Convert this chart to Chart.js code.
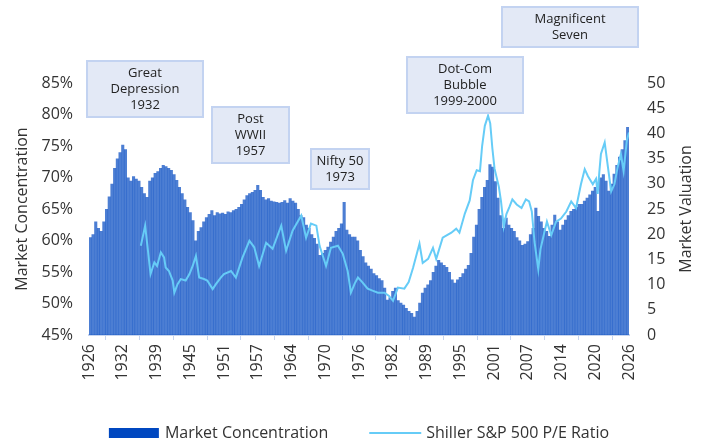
<!DOCTYPE html>
<html>
<head>
<meta charset="utf-8">
<script src="https://cdn.jsdelivr.net/npm/chart.js@4.4.1/dist/chart.umd.min.js"></script>
<style>
  html, body { margin: 0; padding: 0; background: #fff; }
</style>
</head>
<body>
<canvas id="myChart" width="706" height="444"></canvas>
<script>
// half-year values, first one is 1926 H1
const startYear = 1926;
const concentration = [
  60.5, 61.0, 63.0, 62.0, 61.5, 63.0, 65.0, 67.0, 69.0, 71.5,
  73.0, 74.0, 75.2, 74.5, 70.0, 69.5, 70.2, 69.8, 69.5, 68.5,
  67.5, 66.9, 69.5, 70.0, 70.7, 71.0, 71.5, 72.0, 71.8, 71.5,
  71.2, 70.5, 69.6, 68.5, 67.5, 66.5, 65.3, 64.5, 63.2, 60.0,
  61.5, 62.1, 63.0, 63.7, 64.2, 64.8, 64.0, 64.5, 64.3, 64.4,
  64.2, 64.6, 64.5, 64.8, 65.0, 65.3, 65.8, 66.5, 67.2, 67.5,
  67.7, 68.0, 68.8, 68.0, 66.9, 66.5, 66.7, 66.3, 66.2, 66.1,
  66.0, 66.1, 66.4, 66.0, 66.7, 66.3, 66.0, 65.0, 64.0, 63.7,
  62.5, 62.0, 61.0, 60.4, 59.5, 57.7, 58.0, 58.5, 59.0, 59.8,
  60.6, 61.5, 62.0, 62.7, 66.1, 61.7, 61.0, 60.6, 60.6, 60.0,
  58.5, 57.5, 56.5, 56.0, 55.5, 54.8, 54.5, 54.0, 53.7, 52.5,
  50.6, 51.0, 52.0, 52.5, 50.5, 50.1, 49.8, 49.3, 48.8, 48.5,
  47.9, 48.8, 50.1, 51.7, 52.5, 53.0, 53.7, 55.0, 56.0, 56.9,
  56.5, 56.1, 55.8, 55.0, 53.8, 53.3, 53.8, 54.2, 54.8, 55.5,
  56.1, 58.0, 60.6, 62.5, 65.0, 66.9, 68.5, 69.6, 72.1, 71.7,
  69.4, 66.8, 64.0, 62.0, 63.6, 62.5, 62.0, 61.5, 60.5, 60.0,
  59.3, 59.5, 59.9, 61.0, 62.0, 65.2, 63.9, 63.0, 62.0, 61.5,
  60.7, 62.5, 64.1, 63.0, 61.7, 62.5, 63.3, 64.0, 64.7, 65.0,
  65.3, 65.8, 65.8, 66.3, 66.8, 67.3, 67.9, 68.5, 64.7, 70.0,
  70.5, 69.5, 67.9, 69.0, 70.6, 72.0, 73.3, 74.5, 75.9, 78.0
];

const peYears = [
  1935.6, 1936.4, 1937.4, 1938.1, 1938.6, 1939.3, 1939.9, 1940.2, 1940.8, 1941.5,
  1941.8, 1942.4, 1943.0, 1943.9, 1944.6, 1945.2, 1945.8, 1946.4, 1947.3, 1947.9,
  1948.9, 1949.5, 1950.4, 1951.0, 1952.3, 1953.2, 1954.4, 1955.7, 1956.6, 1957.5,
  1958.8, 1960.0, 1961.6, 1962.5, 1963.7, 1965.3, 1966.2, 1967.1, 1968.1, 1968.7,
  1969.9, 1970.8, 1972.1, 1973.0, 1973.9, 1974.5, 1975.2, 1975.8, 1976.6, 1977.6,
  1978.5, 1979.5, 1980.7, 1981.5, 1982.3, 1983.2, 1984.4, 1985.2, 1986.0, 1987.2,
  1987.8, 1988.8, 1989.7, 1990.3, 1991.5, 1993.1, 1994.0, 1994.6, 1995.6, 1996.5,
  1997.1, 1997.8, 1998.4, 1998.8, 1999.3, 1999.9, 2000.3, 2000.7, 2001.1, 2001.9,
  2002.3, 2002.8, 2003.3, 2003.9, 2004.4, 2005.2, 2006.1, 2006.9, 2007.5, 2008.0,
  2008.5, 2009.2, 2009.6, 2010.2, 2010.8, 2011.6, 2012.5, 2013.4, 2014.4, 2015.3,
  2016.2, 2017.1, 2017.8, 2018.4, 2019.3, 2019.9, 2020.2, 2020.5, 2020.8, 2021.5,
  2022.1, 2022.7, 2023.3, 2023.9, 2024.5, 2025.0, 2025.6, 2026.0
];
const peValues = [
  17.7, 21.7, 12.1, 14.4, 13.7, 16.4, 15.4, 13.4, 12.7, 10.8,
  8.4, 10.1, 11.1, 10.8, 12.1, 13.7, 15.7, 11.4, 11.1, 10.8,
  9.1, 10.1, 11.4, 12.1, 12.7, 11.4, 15.3, 18.7, 17.4, 13.7,
  18.3, 17.1, 21.7, 16.7, 20.7, 23.7, 19.3, 22.1, 21.7, 17.7,
  13.7, 17.3, 17.7, 16.1, 12.7, 8.4, 10.2, 11.4, 10.5, 9.2,
  8.8, 8.4, 8.4, 7.8, 6.8, 9.4, 9.2, 10.5, 13.3, 18.1,
  14.3, 15.1, 17.3, 15.1, 19.3, 20.3, 21.1, 20.3, 24.1, 26.7,
  30.7, 32.7, 32.5, 37.5, 41.5, 43.5, 42.0, 37.0, 33.0, 29.4,
  26.5, 21.5, 24.0, 25.5, 26.9, 25.9, 25.2, 26.9, 26.5, 24.5,
  18.5, 13.0, 17.0, 19.8, 22.5, 19.8, 22.5, 23.1, 24.5, 26.5,
  25.2, 29.9, 32.9, 31.5, 29.9, 31.0, 28.0, 32.3, 35.9, 38.2,
  33.3, 28.5, 29.9, 33.3, 35.9, 32.5, 38.6, 40.2
];

const xTickLabels = ["1926", "1932", "1939", "1945", "1951", "1957", "1964", "1970", "1976",
  "1982", "1989", "1995", "2001", "2007", "2014", "2020", "2026"];

const notes = [
  { lines: ["Great", "Depression", "1932"], x: 87, y: 61, w: 116, h: 56 },
  { lines: ["Post", "WWII", "1957"], x: 212, y: 107, w: 77, h: 56 },
  { lines: ["Nifty 50", "1973"], x: 311, y: 149, w: 58, h: 40 },
  { lines: ["Dot-Com", "Bubble", "1999-2000"], x: 407, y: 57, w: 116, h: 56 },
  { lines: ["Magnificent", "Seven"], x: 502, y: 7, w: 136, h: 40 }
];

const barColor = "rgba(0, 71, 192, 0.7)";
const legendBarColor = "#0047c0";
const lineColor = "#66ccf7";
const textColor = "#333";
const fontFamily = "'Open Sans', sans-serif";

Chart.defaults.font.family = fontFamily;
Chart.defaults.font.size = 16;
Chart.defaults.color = textColor;

const barPoints = concentration.map((v, i) => ({ x: startYear + 0.25 + i * 0.5, y: v }));
const pePoints = peYears.map((yr, i) => ({ x: yr, y: peValues[i] }));

// boxes with the event names
const notesPlugin = {
  id: "notes",
  afterDraw(chart) {
    const c = chart.ctx;
    c.save();
    c.font = "13px " + fontFamily;
    c.textAlign = "center";
    c.textBaseline = "middle";
    notes.forEach(n => {
      c.fillStyle = "#e3e9f6";
      c.fillRect(n.x, n.y, n.w, n.h);
      c.strokeStyle = "#c3d3f1";
      c.lineWidth = 2;
      c.strokeRect(n.x, n.y, n.w, n.h);
      c.fillStyle = "#222";
      n.lines.forEach((t, i) => c.fillText(t, n.x + n.w / 2, n.y + 12 + i * 16));
    });
    c.restore();
  }
};

// right axis title reads bottom-to-top, and the legend with wider gaps
const extrasPlugin = {
  id: "extras",
  afterDraw(chart) {
    const c = chart.ctx;
    const area = chart.chartArea;
    c.save();
    c.font = "16px " + fontFamily;
    c.fillStyle = textColor;
    c.textAlign = "center";
    c.textBaseline = "middle";
    c.translate(686, (area.top + area.bottom) / 2);
    c.rotate(-Math.PI / 2);
    c.fillText("Market Valuation", 0, 0);
    c.restore();

    const ds = chart.data.datasets;
    c.save();
    c.font = "16px " + fontFamily;
    c.textBaseline = "middle";
    c.textAlign = "left";
    const w1 = c.measureText(ds[0].label).width;
    const w2 = c.measureText(ds[1].label).width;
    const total = 50 + 6 + w1 + 41 + 52 + 5 + w2;
    let x = (area.left + area.right) / 2 - total / 2;
    const y = 433;
    c.fillStyle = legendBarColor;
    c.fillRect(x, y - 5, 50, 10);
    x += 56;
    c.fillStyle = textColor;
    c.fillText(ds[0].label, x, y);
    x += w1 + 41;
    c.strokeStyle = lineColor;
    c.lineWidth = 2;
    c.beginPath();
    c.moveTo(x, y);
    c.lineTo(x + 52, y);
    c.stroke();
    x += 57;
    c.fillText(ds[1].label, x, y);
    c.restore();
  }
};

const ctx = document.getElementById("myChart").getContext("2d");
const myChart = new Chart(ctx, {
  type: "bar",
  data: {
    datasets: [
      {
        label: "Market Concentration",
        data: barPoints,
        backgroundColor: barColor,
        barPercentage: 1.15,
        categoryPercentage: 1,
        yAxisID: "y",
        order: 2
      },
      {
        type: "line",
        label: "Shiller S&P 500 P/E Ratio",
        data: pePoints,
        borderColor: lineColor,
        backgroundColor: lineColor,
        borderWidth: 2,
        pointRadius: 0,
        tension: 0,
        yAxisID: "y1",
        order: 1
      }
    ]
  },
  options: {
    responsive: false,
    animation: false,
    layout: { padding: { top: 83, bottom: 59, left: 0, right: 0 } },
    plugins: {
      legend: { display: false },
      tooltip: { enabled: false }
    },
    scales: {
      x: {
        type: "linear",
        min: 1926,
        max: 2026,
        offset: false,
        ticks: {
          stepSize: 6.25,
          minRotation: 90,
          maxRotation: 90,
          autoSkip: false,
          padding: 4,
          callback: (v, i) => xTickLabels[i]
        },
        grid: { drawOnChartArea: false, color: "#c7d5ef", tickLength: 5 },
        border: { color: "#c7d5ef", width: 2 },
        afterFit: s => { s.height = 50; }
      },
      y: {
        position: "left",
        min: 45,
        max: 85,
        ticks: { stepSize: 5, padding: 16, callback: v => v + "%" },
        grid: { display: false, drawTicks: false },
        border: { display: false },
        title: { display: true, text: "Market Concentration", padding: { top: 13, bottom: 0 } },
        afterFit: s => { s.width = 89; }
      },
      y1: {
        position: "right",
        min: 0,
        max: 50,
        ticks: { stepSize: 5, padding: 18 },
        grid: { display: false, drawTicks: false },
        border: { display: false },
        afterFit: s => { s.width = 77; }
      }
    }
  },
  plugins: [notesPlugin, extrasPlugin]
});
</script>
</body>
</html>
